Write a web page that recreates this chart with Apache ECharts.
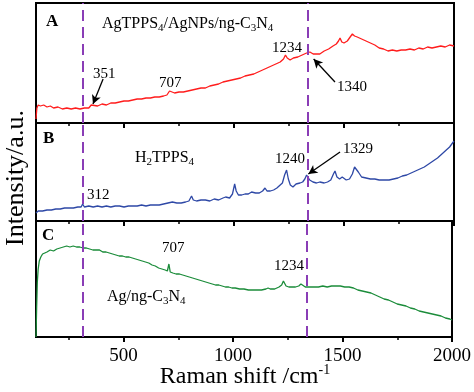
<!DOCTYPE html>
<html>
<head>
<meta charset="utf-8">
<script src="https://cdn.jsdelivr.net/npm/echarts@6/dist/echarts.min.js"></script>
<style>
html,body{margin:0;padding:0;background:#fff;}
#chart{width:474px;height:392px;}
</style>
</head>
<body>
<div id="chart"></div>
<script>
// ---- data (Raman shift, intensity a.u.) ----
const specA = [[100,4],[104,15],[110,18],[120,17],[135,18],[150,16],[165,17],[180,15],[200,16],[220,14],[240,15],[260,14],[280,15],[300,14],[320,15],[340,15],[351,18],[360,16],[380,17],[400,19],[420,18],[440,20],[460,20],[480,21],[500,22],[520,22],[540,23],[560,24],[580,24],[600,25],[620,25],[640,26],[660,26],[680,27],[695,28],[707,32],[715,30],[730,30],[750,31],[770,31],[790,32],[810,33],[830,34],[850,35],[870,35],[890,37],[910,38],[930,39],[950,41],[970,42],[990,43],[1010,44],[1030,45],[1050,47],[1070,48],[1090,49],[1110,51],[1130,53],[1150,55],[1170,57],[1190,59],[1210,61],[1225,64],[1234,68],[1242,65],[1255,63],[1270,65],[1290,66],[1310,68],[1330,70],[1345,71],[1360,69],[1375,69],[1390,69],[1410,72],[1430,74],[1450,77],[1465,79],[1475,82],[1482,85],[1490,81],[1500,80],[1515,82],[1528,86],[1538,89],[1548,87],[1560,86],[1580,84],[1600,82],[1620,80],[1640,78],[1660,75],[1680,74],[1700,72],[1720,73],[1740,72],[1760,73],[1780,73],[1800,74],[1820,73],[1840,75],[1860,74],[1880,76],[1900,75],[1920,76],[1940,77],[1960,76],[1980,78],[2000,77]];
const specB = [[100,8],[110,10],[130,10],[150,11],[170,11],[190,12],[210,12],[230,13],[250,13],[270,13],[290,14],[305,14],[312,17],[320,14],[340,15],[360,14],[380,15],[400,14],[420,15],[440,14],[460,15],[480,15],[500,14],[520,15],[540,15],[560,15],[580,16],[600,15],[620,16],[640,16],[660,16],[680,17],[700,18],[720,19],[740,18],[760,18],[780,19],[795,20],[807,25],[815,21],[830,20],[850,21],[870,21],[890,20],[910,22],[930,21],[950,23],[962,24],[970,26],[980,23],[993,27],[1003,37],[1010,30],[1020,26],[1035,26],[1050,27],[1065,27],[1080,29],[1088,31],[1098,28],[1115,28],[1130,30],[1141,33],[1150,30],[1165,30],[1180,31],[1195,33],[1210,36],[1220,38],[1230,46],[1239,51],[1247,42],[1256,36],[1268,34],[1282,37],[1300,38],[1312,39],[1322,42],[1330,46],[1336,47],[1344,41],[1359,39],[1375,38],[1390,39],[1410,38],[1425,39],[1440,41],[1452,47],[1459,50],[1468,44],[1480,42],[1492,44],[1500,45],[1510,41],[1525,42],[1538,47],[1548,54],[1555,55],[1565,49],[1580,44],[1600,43],[1620,42],[1640,42],[1660,41],[1685,41],[1705,41],[1725,42],[1745,43],[1765,45],[1785,46],[1805,48],[1825,50],[1845,52],[1865,54],[1885,57],[1905,60],[1925,63],[1945,67],[1965,71],[1980,74],[1990,77],[2000,80]];
const specC = [[100,0],[103,30],[106,55],[110,68],[115,76],[122,80],[130,83],[140,84],[150,85],[165,87],[180,86],[195,88],[210,89],[225,90],[240,91],[255,90],[270,91],[285,90],[300,90],[315,89],[330,89],[345,88],[360,87],[375,87],[390,87],[405,85],[420,85],[435,84],[450,83],[465,82],[480,81],[495,81],[510,80],[525,80],[540,79],[555,78],[570,77],[585,76],[600,75],[615,74],[630,72],[645,71],[660,69],[675,68],[690,67],[700,66],[707,73],[713,65],[725,64],[740,63],[755,63],[770,62],[785,61],[800,60],[815,59],[830,58],[845,57],[860,56],[875,55],[890,54],[905,53],[920,52],[935,52],[950,51],[965,50],[980,50],[995,49],[1010,49],[1030,48],[1050,48],[1070,47],[1090,47],[1110,47],[1130,47],[1150,48],[1160,49],[1170,48],[1190,48],[1210,50],[1222,52],[1230,56],[1236,57],[1242,51],[1255,50],[1270,50],[1285,50],[1300,51],[1310,53],[1318,51],[1330,50],[1350,50],[1370,50],[1390,50],[1410,51],[1430,50],[1450,51],[1470,51],[1490,51],[1510,50],[1530,50],[1550,49],[1570,47],[1590,46],[1610,45],[1630,44],[1650,42],[1670,40],[1690,38],[1710,37],[1730,35],[1750,33],[1770,32],[1790,31],[1810,29],[1830,28],[1850,26],[1870,25],[1890,24],[1910,23],[1930,22],[1950,21],[1970,19],[1990,18],[2000,17]];
const majorTicks = [500, 1000, 1500, 2000];
const minorTicks = [250, 750, 1250, 1750];
const markerLines = [312, 1337];
const arrowA = [[[405,44],[359,19]], [[1459,41],[1362,64]]];
const arrowB = [[[1482,69],[1338,47]]];

// ---- layout ----
const L = 36, R = 20;
const panels = [
  {top: 3, height: 120, ymax: 120, color: '#ff1c1c', data: specA, arrows: arrowA},
  {top: 123, height: 98, ymax: 98, color: '#2e48a6', data: specB, arrows: arrowB},
  {top: 221, height: 116, ymax: 116, color: '#1b8c3a', data: specC, arrows: []}
];
const serif = 'Liberation Serif';

const grids = [], xAxes = [], yAxes = [], series = [];
panels.forEach((p, i) => {
  grids.push({left: L, right: R, top: p.top, height: p.height, show: true,
    borderColor: '#000', borderWidth: 2});
  yAxes.push({gridIndex: i, type: 'value', min: 0, max: p.ymax, show: false});
  const mlData = markerLines.map(v => ({xAxis: v}));
  p.arrows.forEach(a => {
    mlData.push([
      {coord: a[0], symbol: 'none', lineStyle: {color: '#000', width: 1.3, type: 'solid'}},
      {coord: a[1], symbol: 'arrow', symbolSize: [7, 9]}
    ]);
  });
  series.push({
    type: 'line', xAxisIndex: i, yAxisIndex: i, data: p.data,
    showSymbol: false, symbol: 'none',
    lineStyle: {color: p.color, width: 1.3}, itemStyle: {color: p.color},
    markLine: {silent: true, symbol: ['none', 'none'],
      label: {show: false},
      lineStyle: {color: '#8a3db6', width: 2, type: [11, 6]},
      data: mlData}
  });
});
panels.forEach((p, i) => {
  xAxes.push({gridIndex: i, type: 'value', min: 100, max: 2000, position: 'bottom',
    axisLine: {show: true, onZero: false, lineStyle: {color: '#000', width: 2}}, splitLine: {show: false},
    axisTick: {show: true, inside: false, length: 5, customValues: majorTicks, lineStyle: {color: '#000', width: 2}},
    axisLabel: {show: i === 2, customValues: majorTicks, margin: 10, color: '#000',
      fontFamily: serif, fontSize: 19, formatter: v => String(v)}});
});
panels.forEach((p, i) => {
  xAxes.push({gridIndex: i, type: 'value', min: 100, max: 2000, position: 'bottom',
    axisLine: {show: false}, splitLine: {show: false},
    axisTick: {show: true, inside: false, length: 3, customValues: minorTicks, lineStyle: {color: '#000', width: 1.5}},
    axisLabel: {show: false}});
  series.push({type: 'line', xAxisIndex: 3 + i, yAxisIndex: i, data: [], showSymbol: false});
});

const subRich = {
  n: {fontFamily: serif, fontSize: 16, lineHeight: 20, color: '#000'},
  s: {fontFamily: serif, fontSize: 11, lineHeight: 11, verticalAlign: 'bottom', color: '#000'}
};
function txt(x, y, text, size, bold) {
  return {type: 'text', x: x, y: y, silent: true,
    style: {text: text, fill: '#000', font: (bold ? 'bold ' : '') + size + 'px "' + serif + '"',
      textAlign: 'left', textVerticalAlign: 'middle'}};
}
function rich(x, y, text) {
  return {type: 'text', x: x, y: y, silent: true,
    style: {text: text, rich: subRich, textAlign: 'left', textVerticalAlign: 'middle'}};
}

const graphics = [
  txt(46, 22, 'A', 17, true),
  txt(43, 139, 'B', 17, true),
  txt(42, 236, 'C', 17, true),
  rich(102, 24, '{n|AgTPPS}{s|4}{n|/AgNPs/ng-C}{s|3}{n|N}{s|4}'),
  rich(135, 158, '{n|H}{s|2}{n|TPPS}{s|4}'),
  rich(107, 297, '{n|Ag/ng-C}{s|3}{n|N}{s|4}'),
  txt(93, 74, '351', 15),
  txt(159, 83, '707', 15),
  txt(272, 48, '1234', 15),
  txt(337, 87, '1340', 15),
  txt(275, 159, '1240', 15),
  txt(343, 149, '1329', 15),
  txt(87, 195, '312', 15),
  txt(162, 248, '707', 15),
  txt(274, 266, '1234', 15),
  {type: 'text', x: 245, y: 377, silent: true,
    style: {text: '{n|Raman shift /cm}{p|-1}', textAlign: 'center', textVerticalAlign: 'middle',
      rich: {n: {fontFamily: serif, fontSize: 24, lineHeight: 28, color: '#000'},
             p: {fontFamily: serif, fontSize: 14, lineHeight: 14, verticalAlign: 'top', color: '#000'}}}},
  {type: 'text', x: 16, y: 178, rotation: Math.PI / 2, silent: true,
    style: {text: 'Intensity/a.u.', fill: '#000', font: '26px "' + serif + '"',
      textAlign: 'center', textVerticalAlign: 'middle'}}
];

const chart = echarts.init(document.getElementById('chart'));
chart.setOption({
  animation: false,
  backgroundColor: '#fff',
  grid: grids, xAxis: xAxes, yAxis: yAxes, series: series,
  graphic: graphics
});
</script>
</body>
</html>
